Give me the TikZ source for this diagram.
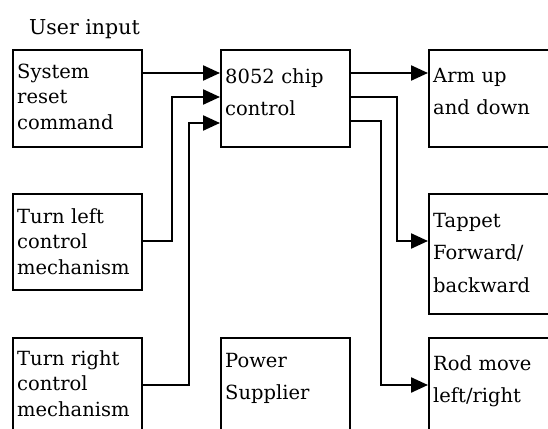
\documentclass[tikz,border=0pt]{standalone}
\usepackage{fontspec}
\setmainfont{DejaVu Serif}
\usetikzlibrary{arrows.meta}
\tikzset{
  box/.style={draw, line width=2.3pt, inner sep=0pt, anchor=north west},
  lbl/.style={inner sep=0pt, anchor=base west, text width=125pt, align=left},
  tightlbl/.style={lbl, font=\fontsize{19.5}{25.5}\selectfont},
  widelbl/.style={lbl, font=\fontsize{19.5}{32.5}\selectfont},
  conn/.style={line width=2.3pt},
  arr/.style={conn, -{Triangle[length=17pt,width=15pt]}},
}
\begin{document}
\begin{tikzpicture}[x=1pt,y=-1pt]
\useasboundingbox (0,0) rectangle (548,428);
\clip (0,0) rectangle (548,428);
\fill[white] (0,0) rectangle (548,428);
% boxes
\node[box, minimum width=129pt, minimum height=97pt] (sys) at (12,49) {};
\node[box, minimum width=129pt, minimum height=97pt] (chip) at (220,49) {};
\node[box, minimum width=140pt, minimum height=97pt] (arm) at (428,49) {};
\node[box, minimum width=129pt, minimum height=96pt] (tl) at (12,193) {};
\node[box, minimum width=140pt, minimum height=120pt] (tap) at (428,193) {};
\node[box, minimum width=129pt, minimum height=110pt] (tr) at (12,337) {};
\node[box, minimum width=129pt, minimum height=110pt] (pow) at (220,337) {};
\node[box, minimum width=140pt, minimum height=110pt] (rod) at (428,337) {};
% texts
\node[inner sep=0pt, anchor=base west, font=\fontsize{20.5}{24}\selectfont] (user) at (29,35) {User input};
\node[tightlbl] (tsys) at (17,78) {System\\reset\\command};
\node[widelbl] (tchip) at (225,83) {8052 chip\\control};
\node[widelbl] (tarm) at (433,82) {Arm up\\and down};
\node[tightlbl] (ttl) at (17,223) {Turn left\\control\\mechanism};
\node[widelbl] (ttap) at (433,227) {Tappet\\Forward/\\backward};
\node[tightlbl] (ttr) at (17,365) {Turn right\\control\\mechanism};
\node[widelbl] (tpow) at (225,367) {Power\\Supplier};
\node[widelbl] (trod) at (433,370) {Rod move\\left/right};
% levels
\coordinate (ya) at (0,73);
\coordinate (yb) at (0,97);
\coordinate (yc) at (0,123);
\coordinate (yd) at (0,121);
\coordinate (ye) at (0,241);
\coordinate (yf) at (0,385);
\coordinate (v1) at (172,0);
\coordinate (v2) at (189,0);
\coordinate (v3) at (397,0);
\coordinate (v4) at (381,0);
% connectors
\draw[arr] (sys.east |- ya) -- (chip.west |- ya);
\draw[arr] (tl.east |- ye) -- (v1 |- ye) -- (v1 |- yb) -- (chip.west |- yb);
\draw[arr] (tr.east |- yf) -- (v2 |- yf) -- (v2 |- yc) -- (chip.west |- yc);
\draw[arr] (chip.east |- ya) -- (arm.west |- ya);
\draw[arr] (chip.east |- yb) -- (v3 |- yb) -- (v3 |- ye) -- (tap.west |- ye);
\draw[arr] (chip.east |- yd) -- (v4 |- yd) -- (v4 |- yf) -- (rod.west |- yf);
\end{tikzpicture}
\end{document}
